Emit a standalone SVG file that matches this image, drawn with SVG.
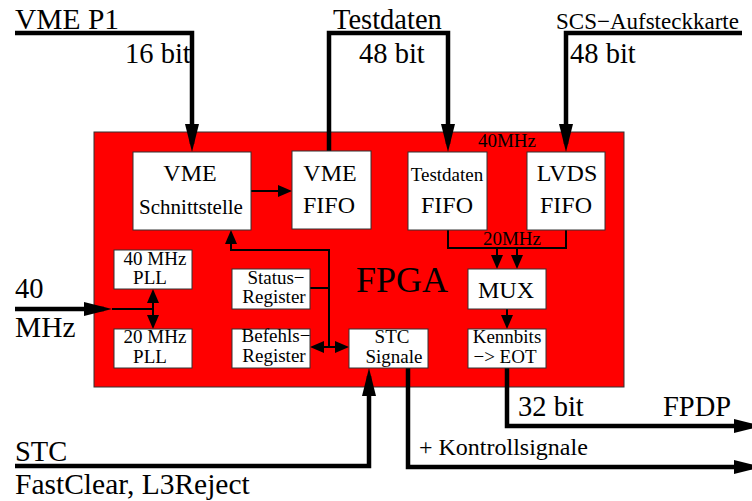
<svg xmlns="http://www.w3.org/2000/svg" width="752" height="501" viewBox="0 0 752 501">
<style>
text{font-family:"Liberation Serif","Times New Roman",serif;fill:#000}
.big{font-size:28.5px}
.med{font-size:24px}
.sm{font-size:19px}
.box{fill:#fff;stroke:#333;stroke-width:1}
.thick{fill:none;stroke:#000;stroke-width:4.5}
.thin{fill:none;stroke:#000;stroke-width:2}
.c{text-anchor:middle}
</style>
<defs>
<marker id="ah" markerUnits="userSpaceOnUse" markerWidth="28" markerHeight="14" refX="20" refY="7" orient="auto-start-reverse" viewBox="0 0 28 14">
<path d="M0,0 L28,7 L0,14 z" fill="#000"/>
</marker>
<marker id="as" markerUnits="userSpaceOnUse" markerWidth="14" markerHeight="12" refX="10" refY="6" orient="auto-start-reverse" viewBox="0 0 14 12">
<path d="M0,0 L14,6 L0,12 z" fill="#000"/>
</marker>
</defs>
<rect id="fpga-bg" x="94" y="132" width="530" height="255" fill="#ff0000" stroke="#333" stroke-width="1"/>
<text class="c" x="507" y="147" font-size="19">40MHz</text>
<text class="c" x="512" y="245" font-size="19">20MHz</text>
<text x="356" y="292" font-size="36">FPGA</text>

<g id="connectors">
<path class="thick" d="M15,33 H192 V144" marker-end="url(#ah)"/>
<path class="thick" d="M329,151 V33 H448 V144" marker-end="url(#ah)"/>
<path class="thick" d="M742,33 H566 V144" marker-end="url(#ah)"/>
<path class="thick" d="M15,309 H104" marker-end="url(#ah)"/>
<path class="thick" d="M15,466 H369 V376" marker-end="url(#ah)"/>
<path class="thick" d="M507,368 V426 H754" marker-end="url(#ah)"/>
<path class="thick" d="M408,368 V467 H754" marker-end="url(#ah)"/>
<path class="thin" d="M251,191 H288" marker-end="url(#as)"/>
<path class="thin" d="M112,309 H153"/>
<path class="thin" d="M153,293 V325" marker-start="url(#as)" marker-end="url(#as)"/>
<path class="thin" d="M329,347 V250 H231 V234" marker-end="url(#as)"/>
<path class="thin" d="M310,288 H329"/>
<path class="thin" d="M314,347 H345" marker-start="url(#as)" marker-end="url(#as)"/>
<path class="thin" d="M448,230 V248 H566 V230"/>
<path class="thin" d="M497,248 V265" marker-end="url(#as)"/>
<path class="thin" d="M517,248 V265" marker-end="url(#as)"/>
<path class="thin" d="M507,309 V325" marker-end="url(#as)"/>
</g>

<g id="labels">
<text x="15" y="29" font-size="29.5">VME P1</text>
<text class="big" x="125" y="63">16 bit</text>
<text class="big" x="333" y="29">Testdaten</text>
<text class="big" x="359" y="63">48 bit</text>
<text x="556" y="29" font-size="23">SCS−Aufsteckkarte</text>
<text class="big" x="570" y="63">48 bit</text>
<text class="big" x="15" y="298">40</text>
<text x="15" y="337" font-size="29.5">MHz</text>
<text class="big" x="15" y="461">STC</text>
<text x="15" y="494" font-size="29.5">FastClear, L3Reject</text>
<text class="big" x="518" y="416">32 bit</text>
<text class="big" x="663" y="416">FPDP</text>
<text x="419" y="455" font-size="24">+ Kontrollsignale</text>
</g>

<g id="vme-schnittstelle">
<rect class="box" x="133" y="152" width="118" height="78"/>
<text class="c med" x="190" y="181">VME</text>
<text class="c" x="191" y="214" font-size="21">Schnittstelle</text>
</g>
<g id="vme-fifo">
<rect class="box" x="292" y="151" width="79" height="78"/>
<text class="c med" x="330" y="181">VME</text>
<text class="c med" x="329" y="213">FIFO</text>
</g>
<g id="testdaten-fifo">
<rect class="box" x="408" y="152" width="79" height="78"/>
<text class="c sm" x="447" y="181">Testdaten</text>
<text class="c med" x="447" y="213">FIFO</text>
</g>
<g id="lvds-fifo">
<rect class="box" x="527" y="152" width="78" height="78"/>
<text class="c med" x="567" y="181">LVDS</text>
<text class="c med" x="566" y="213">FIFO</text>
</g>
<g id="pll40">
<rect class="box" x="114" y="250" width="78" height="39"/>
<text class="c sm" x="155" y="265">40 MHz</text>
<text class="c sm" x="150" y="284">PLL</text>
</g>
<g id="pll20">
<rect class="box" x="114" y="329" width="78" height="39"/>
<text class="c sm" x="155" y="343">20 MHz</text>
<text class="c sm" x="150" y="363">PLL</text>
</g>
<g id="status-register">
<rect class="box" x="232" y="269" width="78" height="40"/>
<text class="c sm" x="276" y="284">Status−</text>
<text class="c sm" x="274" y="303">Register</text>
</g>
<g id="befehls-register">
<rect class="box" x="232" y="329" width="78" height="39"/>
<text class="c sm" x="276" y="342">Befehls−</text>
<text class="c sm" x="274" y="362">Register</text>
</g>
<g id="stc-signale">
<rect class="box" x="349" y="329" width="79" height="39"/>
<text class="c sm" x="392" y="343">STC</text>
<text class="c sm" x="394" y="363">Signale</text>
</g>
<g id="mux">
<rect class="box" x="468" y="269" width="78" height="40"/>
<text class="c med" x="506" y="298">MUX</text>
</g>
<g id="kennbits">
<rect class="box" x="468" y="329" width="78" height="39"/>
<text class="c sm" x="507" y="343">Kennbits</text>
<text class="c sm" x="505" y="363">−&gt; EOT</text>
</g>
</svg>
